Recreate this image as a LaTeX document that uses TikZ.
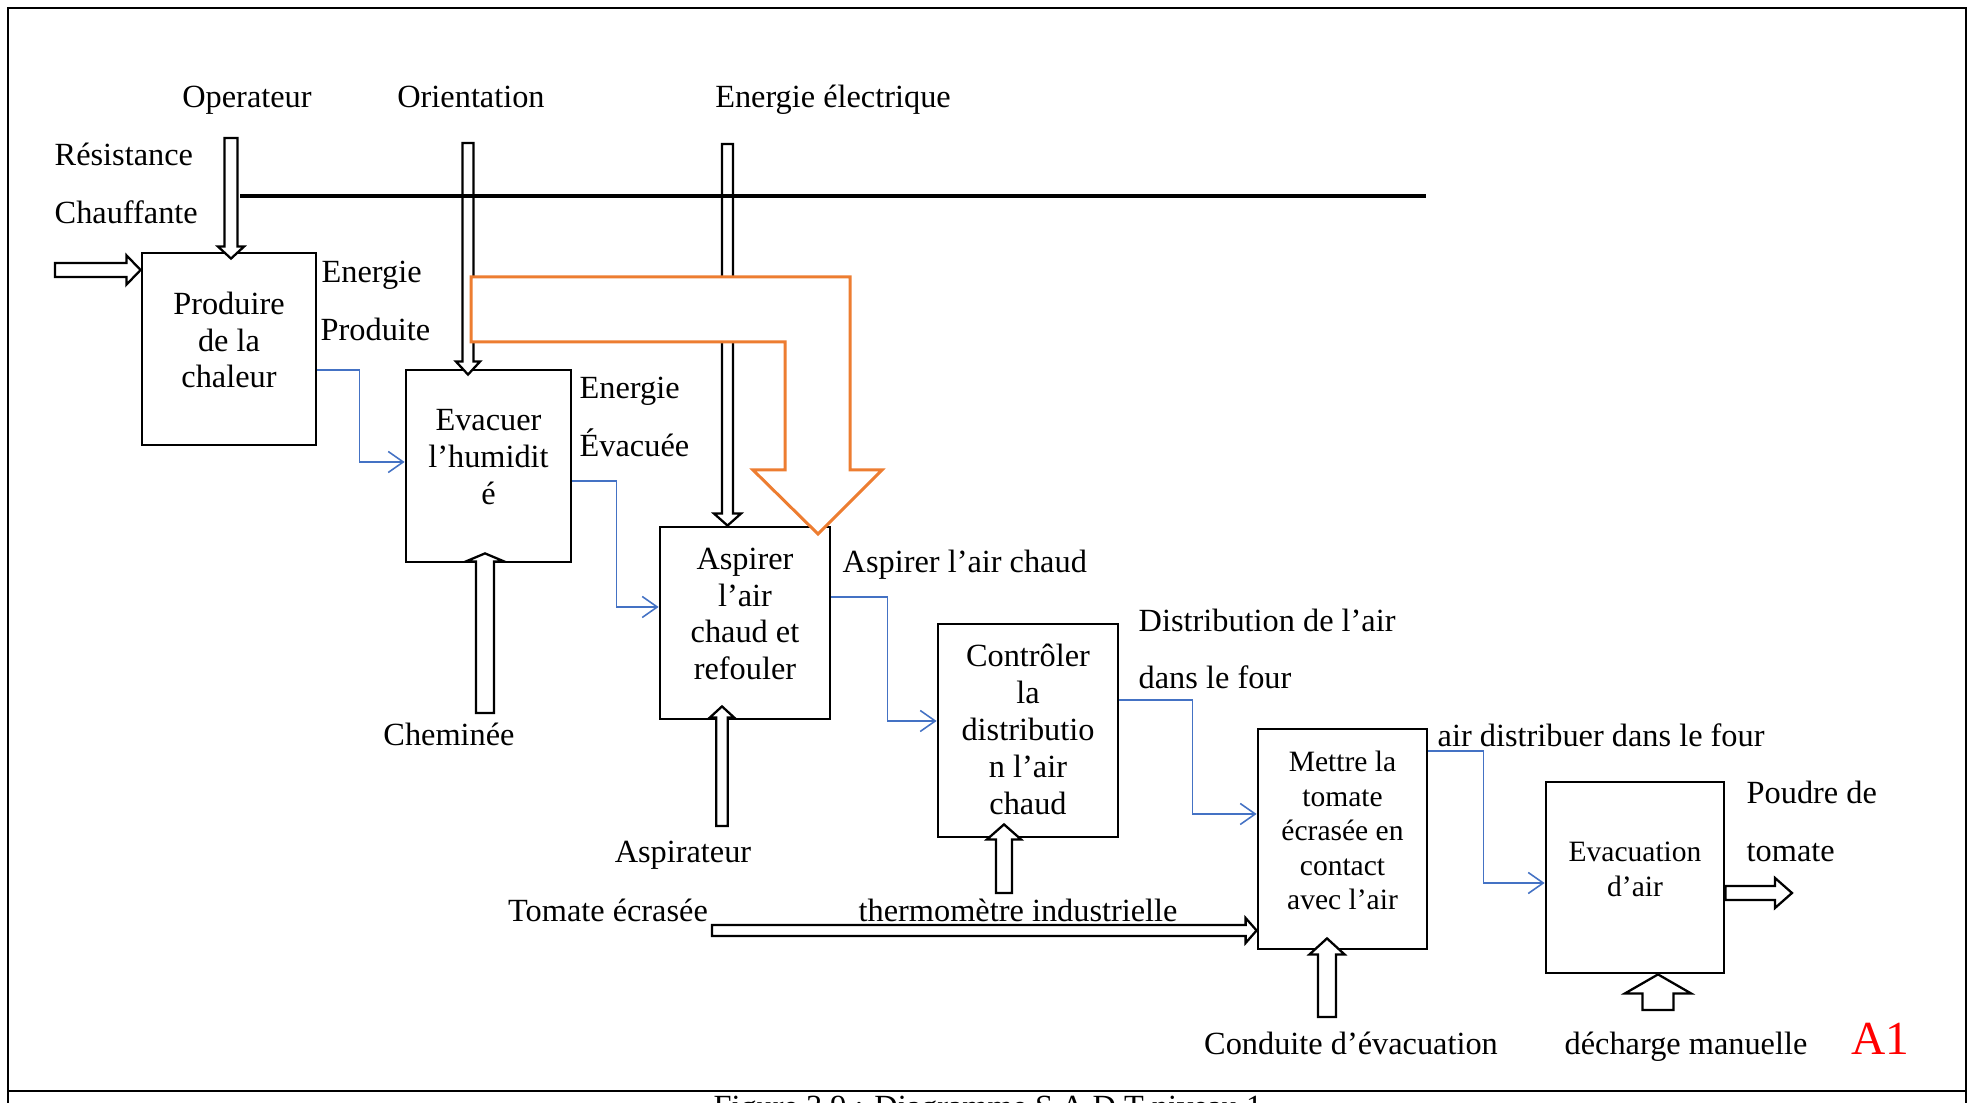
\documentclass[tikz,border=0pt]{standalone}
\usepackage{fontspec}
\setmainfont{Liberation Serif}
\usetikzlibrary{calc,arrows.meta}
\definecolor{flowblue}{HTML}{4472C4}
\definecolor{heatorange}{HTML}{ED7D31}

% hollow arrow: from, to, half shaft, half head, head length
\newcommand{\fatarrow}[5]{%
  \coordinate (fah) at ($(#2)!#5!(#1)$);
  \draw[fat] ($(#1)!#3!90:(#2)$) -- ($(fah)!#3!90:(#2)$) -- ($(fah)!#4!90:(#2)$)
    -- (#2) -- ($(fah)!#4!-90:(#2)$) -- ($(fah)!#3!-90:(#2)$) -- ($(#1)!#3!-90:(#2)$) -- cycle;}

\begin{document}
\begin{tikzpicture}[x=0.1mm,y=-0.1mm,
  box/.style={draw,line width=0.8pt,inner sep=0pt},
  boxtxt/.style={align=center,inner sep=0pt,font=\fontsize{9.2}{10.5}\selectfont},
  boxtxtsm/.style={boxtxt,font=\fontsize{8.4}{9.8}\selectfont},
  lbl/.style={inner sep=0pt,anchor=base,font=\fontsize{9.2}{11}\selectfont},
  lblw/.style={lbl,anchor=base west},
  fat/.style={draw,fill=white,line width=0.65pt},
  flow/.style={flowblue,line width=0.45pt,-{Straight Barb[length=1.5mm,width=2.1mm]}}]
  \useasboundingbox (0,0) rectangle (1970,1103);
  % frame
  \draw[line width=0.45pt] (8,1103) -- (8,8) -- (1966,8) -- (1966,1103);
  \draw[line width=0.7pt] (8,1091) -- (1966,1091);
  \node[lbl] (cap) at (988,1118) {Figure 3.9 : Diagramme S.A.D.T niveau 1};

  % activities
  \node[box,minimum width=17.4mm,minimum height=19.2mm] (prod) at (229,349) {};
  \node[box,minimum width=16.5mm,minimum height=19.2mm] (evac) at (488.5,466) {};
  \node[box,minimum width=17mm,minimum height=19.2mm] (asp) at (745,623) {};
  \node[box,minimum width=18mm,minimum height=21.3mm] (ctrl) at (1028,730.5) {};
  \node[box,minimum width=16.9mm,minimum height=22mm] (met) at (1342.5,839) {};
  \node[box,minimum width=17.8mm,minimum height=19.1mm] (evq) at (1635,877.5) {};
  \node[boxtxt] (prodtxt) at ([yshift=0.9mm]prod.center) {Produire\\de la\\chaleur};
  \node[boxtxt] (evactxt) at ([yshift=0.9mm]evac.center) {Evacuer\\l’humidit\\é};
  \node[boxtxt] (asptxt) at ([yshift=0.9mm]asp.center) {Aspirer\\l’air\\chaud et\\refouler};
  \node[boxtxt] (ctrltxt) at ([yshift=0.1mm]ctrl.center) {Contrôler\\la\\distributio\\n l’air\\chaud};
  \node[boxtxtsm] (mettxt) at ([yshift=0.85mm]met.center) {Mettre la\\tomate\\écrasée en\\contact\\avec l’air};
  \node[boxtxtsm] (evqtxt) at ([yshift=0.8mm]evq.center) {Evacuation\\d’air};

  % labels
  \node[lbl] (op) at (247,108) {Operateur};
  \node[lbl] (ori) at (471,108) {Orientation};
  \node[lbl] (ele) at (833,108) {Energie électrique};
  \node[lblw] (res1) at (54,166) {Résistance};
  \node[lblw] (res2) at (54,224) {Chauffante};
  \node[lblw] (ep1) at (321,283) {Energie};
  \node[lblw] (ep2) at (320,341) {Produite};
  \node[lblw] (ee1) at (579,399) {Energie};
  \node[lblw] (ee2) at (579,457) {Évacuée};
  \node[lbl] (chem) at (449,746) {Cheminée};
  \node[lblw] (aac) at (842,573) {Aspirer l’air chaud};
  \node[lbl] (aspi) at (683,863) {Aspirateur};
  \node[lblw] (dist1) at (1138,632) {Distribution de l’air};
  \node[lblw] (dist2) at (1138,689) {dans le four};
  \node[lbl] (tom) at (608,922) {Tomate écrasée};
  \node[lblw] (therm) at (858,922) {thermomètre industrielle};
  \node[lblw] (adf) at (1437,747) {air distribuer dans le four};
  \node[lbl] (cond) at (1351,1055) {Conduite d’évacuation};
  \node[lblw] (pdr1) at (1746,804) {Poudre de};
  \node[lblw] (pdr2) at (1746,862) {tomate};
  \node[lbl] (dech) at (1686,1055) {décharge manuelle};
  \node[lbl,text=red,font=\fontsize{13.5}{16}\selectfont] (a1) at (1880,1055) {A1};

  % free ends of the hollow arrows
  \coordinate (resS) at (55,270);
  \coordinate (resT) at (prod.west |- resS);
  \coordinate (opS) at (231,138);
  \coordinate[yshift=-0.7mm] (opT) at (opS |- prod.north);
  \coordinate (oriS) at (468,143);
  \coordinate[yshift=-0.6mm] (oriT) at (oriS |- evac.north);
  \coordinate (eleS) at (727.5,144);
  \coordinate (eleT) at (eleS |- asp.north);
  \coordinate (chemS) at (485,713);
  \coordinate[yshift=1mm] (chemT) at (chemS |- evac.south);
  \coordinate (aspiS) at (722,826);
  \coordinate[yshift=1.4mm] (aspiT) at (aspiS |- asp.south);
  \coordinate (thermS) at (1004,893);
  \coordinate[yshift=1.4mm] (thermT) at (thermS |- ctrl.south);
  \coordinate (tomS) at (712,930.5);
  \coordinate (tomT) at (met.west |- tomS);
  \coordinate (condS) at (1327,1017);
  \coordinate[yshift=1.2mm] (condT) at (condS |- met.south);
  \coordinate (outT) at (1792,893);
  \coordinate (outS) at (evq.east |- outT);
  \coordinate (dechS) at (1658,1010);
  \coordinate (dechT) at (dechS |- evq.south);

  \fatarrow{resS}{resT}{0.7mm}{1.45mm}{1.4mm}
  \fatarrow{opS}{opT}{0.65mm}{1.3mm}{1.2mm}
  \fatarrow{oriS}{oriT}{0.55mm}{1.2mm}{1.3mm}
  \fatarrow{eleS}{eleT}{0.55mm}{1.35mm}{1.2mm}
  \fatarrow{chemS}{chemT}{0.9mm}{1.9mm}{0.8mm}
  \fatarrow{aspiS}{aspiT}{0.58mm}{1.2mm}{1.1mm}
  \fatarrow{thermS}{thermT}{0.8mm}{1.7mm}{1.5mm}
  \fatarrow{tomS}{tomT}{0.55mm}{1.25mm}{1.1mm}
  \fatarrow{condS}{condT}{0.9mm}{1.75mm}{1.6mm}
  \fatarrow{outS}{outT}{0.7mm}{1.5mm}{1.7mm}
  \fatarrow{dechS}{dechT}{1.55mm}{3.3mm}{1.9mm}

  \draw[line width=1.15pt] (240,196) -- (1426,196);
  \draw[heatorange,line width=0.85pt,fill=white] (471,277) -- (850,277) -- (850,470)
    -- (882,470) -- (818,534) -- (753,470) -- (785,470) -- (785,342) -- (471,342) -- cycle;

  % flows
  \draw[flow] ([yshift=-2.1mm]prod.east) -- ++(42,0) |- ([yshift=0.4mm]evac.west);
  \draw[flow] ([yshift=-1.5mm]evac.east) -- ++(44,0) |- ([yshift=1.6mm]asp.west);
  \draw[flow] ([yshift=2.6mm]asp.east) -- ++(56,0) |- ([yshift=0.95mm]ctrl.west);
  \draw[flow] ([yshift=3.05mm]ctrl.east) -- ++(73,0) |- ([yshift=2.5mm]met.west);
  \draw[flow] ([yshift=8.8mm]met.east) -- ++(55,0) |- ([yshift=-0.55mm]evq.west);
\end{tikzpicture}
\end{document}
